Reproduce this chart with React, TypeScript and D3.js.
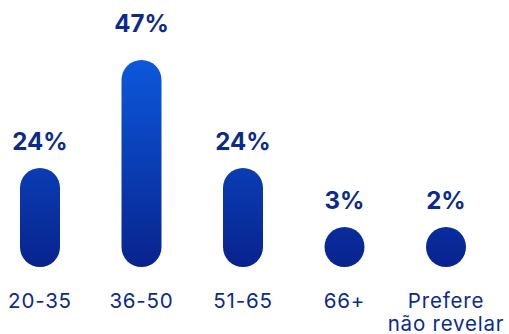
import React from "react";
import * as d3 from "d3";

const categories: string[][] = [["20-35"], ["36-50"], ["51-65"], ["66+"], ["Prefere", "não revelar"]];
const values: number[] = [24, 47, 24, 3, 2];
const valueLabels: string[] = ["24%", "47%", "24%", "3%", "2%"];

const W = 509;
const H = 334;
const BASE = 267;
const BAR_W = 40;
const NAVY = "#0b2a8c";

export default function App() {
  const x = d3.scalePoint<number>().domain(values.map((_, i) => i)).range([40, 446]);
  const h = d3.scaleLinear().domain([24, 47]).range([99, 207]);
  const maxV = d3.max(values) as number;
  const font = "Inter, 'Noto Sans', sans-serif";
  return (
    <svg width={W} height={H} style={{ position: "absolute", left: 0, top: 0 }}>
      <defs>
        <linearGradient id="g" gradientUnits="userSpaceOnUse" x1={0} y1={60} x2={0} y2={BASE}>
          <stop offset="0" stopColor="#0d58dc" />
          <stop offset="1" stopColor="#08238e" />
        </linearGradient>
      </defs>
      {values.map((v, i) => {
        const bh = Math.max(BAR_W, h(v));
        const cx = x(i) as number;
        const top = BASE - bh;
        const labelY = top - 18 - (v === maxV ? 10 : 0);
        return (
          <g key={i}>
            <rect x={cx - BAR_W / 2} y={top} width={BAR_W} height={bh} rx={BAR_W / 2} fill="url(#g)" />
            <text x={cx} y={labelY} textAnchor="middle" fontFamily={font} fontWeight={700} fontSize={24} fill={NAVY}>
              {valueLabels[i]}
            </text>
            <text textAnchor="middle" fontFamily={font} fontSize={20.5} letterSpacing={0.8} fill={NAVY}>
              {categories[i].map((line, j) => (
                <tspan key={j} x={cx} y={308 + j * 23}>{line}</tspan>
              ))}
            </text>
          </g>
        );
      })}
    </svg>
  );
}
